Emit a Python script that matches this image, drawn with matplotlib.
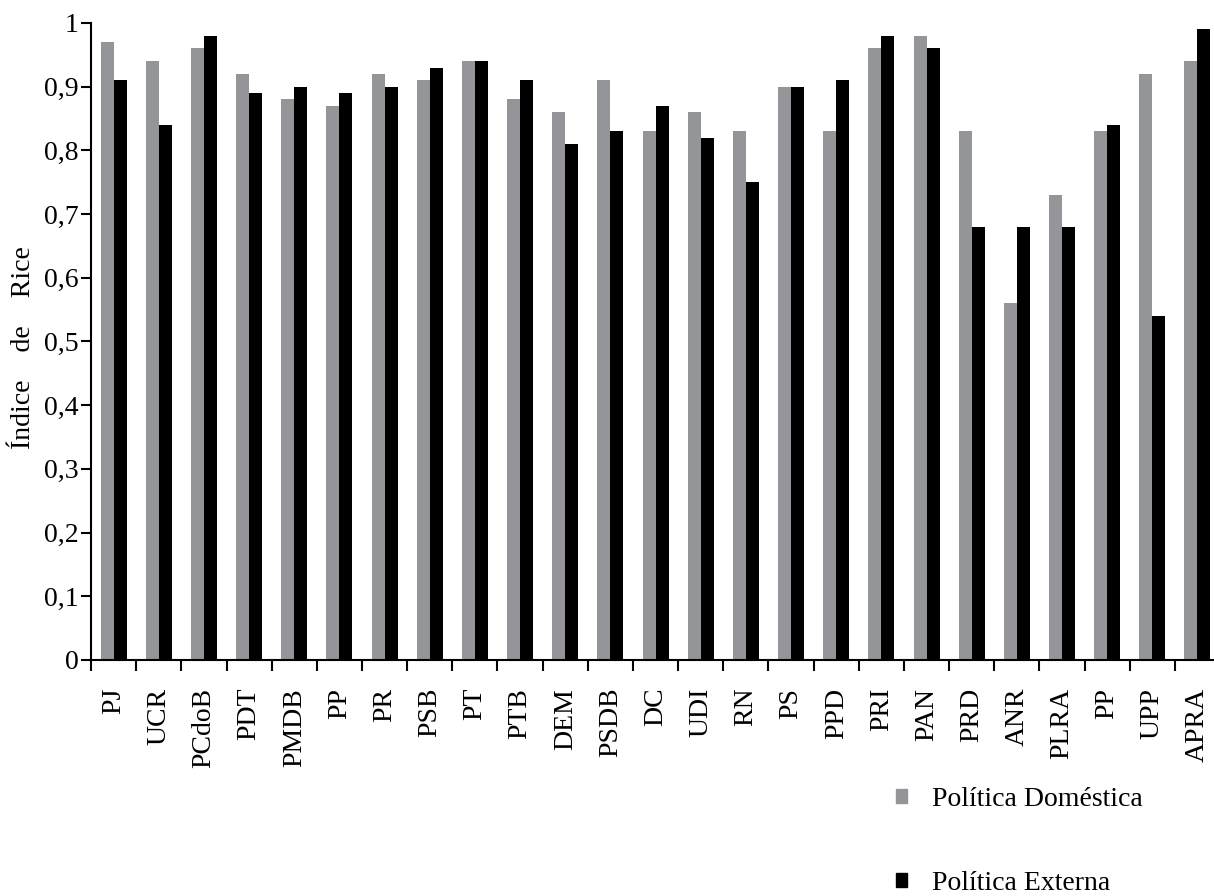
import numpy as np
import matplotlib
matplotlib.use('Agg')
import matplotlib.pyplot as plt
from matplotlib.patches import Patch

# Dados
partidos = ['PJ', 'UCR', 'PCdoB', 'PDT', 'PMDB', 'PP', 'PR', 'PSB', 'PT', 'PTB',
            'DEM', 'PSDB', 'DC', 'UDI', 'RN', 'PS', 'PPD', 'PRI', 'PAN', 'PRD',
            'ANR', 'PLRA', 'PP', 'UPP', 'APRA']
domestica = [0.97, 0.94, 0.96, 0.92, 0.88, 0.87, 0.92, 0.91, 0.94, 0.88,
             0.86, 0.91, 0.83, 0.86, 0.83, 0.90, 0.83, 0.96, 0.98, 0.83,
             0.56, 0.73, 0.83, 0.92, 0.94]
externa = [0.91, 0.84, 0.98, 0.89, 0.90, 0.89, 0.90, 0.93, 0.94, 0.91,
           0.81, 0.83, 0.87, 0.82, 0.75, 0.90, 0.91, 0.98, 0.96, 0.68,
           0.68, 0.68, 0.84, 0.54, 0.99]
y_ticks = [0, 0.1, 0.2, 0.3, 0.4, 0.5, 0.6, 0.7, 0.8, 0.9, 1]
y_labels = ['0', '0,1', '0,2', '0,3', '0,4', '0,5', '0,6', '0,7', '0,8', '0,9', '1']

plt.rcParams['font.family'] = ['Liberation Serif', 'DejaVu Serif']

fig = plt.figure(figsize=(12.14, 8.96), dpi=100)
ax = fig.add_axes([0.075, 0.2634, 0.93, 0.711])

x = np.arange(len(partidos))
w = 0.288
ax.bar(x - w / 2, domestica, w, color='#939598', label='Política Doméstica')
ax.bar(x + w / 2, externa, w, color='#000000', label='Política Externa')

ax.set_xlim(-0.5, len(partidos) - 0.5)
ax.set_ylim(0, 1)

# Eixo X: rótulos no centro, marcas entre categorias
ax.set_xticks(x)
ax.set_xticklabels(partidos, rotation=90, fontsize=20)
ax.tick_params(axis='x', which='major', length=0, pad=20)
ax.set_xticks(np.arange(len(partidos) + 1) - 0.5, minor=True)
ax.tick_params(axis='x', which='minor', length=8, width=1.5, direction='out')

# Eixo Y
ax.set_yticks(y_ticks)
ax.set_yticklabels(y_labels, fontsize=20)
ax.tick_params(axis='y', length=7, width=1.5, pad=2)
ax.set_ylabel('Índice    de    Rice', fontsize=20)
ax.yaxis.set_label_coords(-0.049, 0.49)

for s in ['top', 'right']:
    ax.spines[s].set_visible(False)
for s in ['left', 'bottom']:
    ax.spines[s].set_linewidth(1.5)

# Legenda
handles = [Patch(color='#939598'), Patch(color='#000000')]
fig.legend(handles, ['Política Doméstica', 'Política Externa'],
           loc='center left', bbox_to_anchor=(0.738, 0.061), frameon=False,
           fontsize=20, handlelength=0.4, handleheight=0.4, handletextpad=0.9,
           labelspacing=2.1, borderpad=0, borderaxespad=0)

plt.savefig('out.png', dpi=100)
plt.close()
